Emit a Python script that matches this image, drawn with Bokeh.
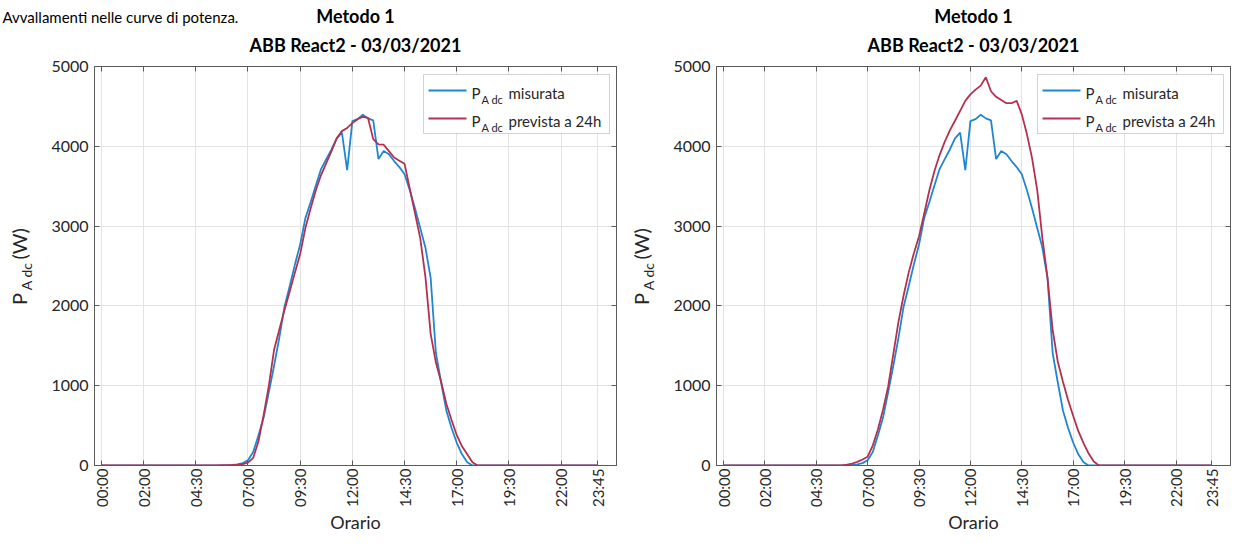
from math import pi
from bokeh.plotting import figure
from bokeh.models import Range1d, FixedTicker, Label, BoxAnnotation, LinearAxis, ColumnDataSource
from bokeh.layouts import row, column
from bokeh.core.properties import value
from bokeh.embed import file_html
from bokeh.resources import INLINE

# ---------------- data (15-minute samples, 00:00 .. 23:45) ----------------
tick_index = [0, 8, 18, 28, 38, 48, 58, 68, 78, 88, 95]
tick_labels = ["00:00", "02:00", "04:30", "07:00", "09:30", "12:00",
               "14:30", "17:00", "19:30", "22:00", "23:45"]
y_ticks = [0, 1000, 2000, 3000, 4000, 5000]

sample = list(range(96))

measured = [0, 0, 0, 0, 0, 0, 0, 0, 0, 0, 0, 0, 0, 0, 0, 0, 0, 0, 0, 0, 0, 0, 0, 0,
            3, 8, 15, 30, 65, 170, 375, 600, 920, 1250, 1600, 1990, 2250, 2520, 2770,
            3100, 3300, 3510, 3715, 3840, 3960, 4100, 4170, 3700, 4315, 4340, 4395,
            4350, 4325, 3840, 3940, 3900, 3815, 3740, 3650, 3450, 3220, 2975, 2730,
            2350, 1410, 1040, 690, 470, 285, 140, 40,
            0, 0, 0, 0, 0, 0, 0, 0, 0, 0, 0, 0, 0, 0, 0, 0, 0, 0, 0, 0, 0, 0, 0, 0, 0]

forecast_left = [0, 0, 0, 0, 0, 0, 0, 0, 0, 0, 0, 0, 0, 0, 0, 0, 0, 0, 0, 0, 0, 0, 0,
                 3, 5, 8, 12, 18, 35, 95, 300, 630, 1000, 1450, 1700, 1950, 2180, 2420,
                 2650, 2975, 3220, 3450, 3640, 3790, 3940, 4100, 4190, 4230, 4290, 4340,
                 4370, 4355, 4090, 4025, 4020, 3940, 3860, 3820, 3780, 3470, 3160, 2850,
                 2360, 1650, 1290, 1050, 775, 570, 380, 240, 140, 40,
                 0, 0, 0, 0, 0, 0, 0, 0, 0, 0, 0, 0, 0, 0, 0, 0, 0, 0, 0, 0, 0, 0, 0, 0]

forecast_right = [0, 0, 0, 0, 0, 0, 0, 0, 0, 0, 0, 0, 0, 0, 0, 0, 0, 0, 0, 0, 0, 0, 0, 0,
                  10, 25, 45, 75, 110, 250, 450, 700, 990, 1395, 1800, 2130, 2420, 2660,
                  2870, 3155, 3445, 3690, 3890, 4055, 4200, 4320, 4445, 4570, 4650, 4710,
                  4760, 4865, 4690, 4620, 4580, 4540, 4540, 4570, 4400, 4150, 3850, 3450,
                  2850, 2350, 1700, 1300, 1050, 820, 620, 430, 280, 150, 50,
                  0, 0, 0, 0, 0, 0, 0, 0, 0, 0, 0, 0, 0, 0, 0, 0, 0, 0, 0, 0, 0, 0, 0]

title_top = "Metodo 1"
title_sub = "ABB React2 - 03/03/2021"
x_label = "Orario"
y_main = ["P", "(W)"]
y_sub = "A dc"
legend_rest = ["misurata", "prevista a 24h"]
page_text = "Avvallamenti nelle curve di potenza."

# ---------------- style / layout ----------------
FONT = "Lato"
BLUE = "#1f86cf"
RED = "#b5304f"
AX = "#5a5a5a"
TXT = "#262626"
GRID = "#e3e3e3"
TOP_H = 56          # title strip
PLOT_H = 480        # each chart
MB_TOP = 10
MB_BOTTOM = 68
FRAME_H = PLOT_H - MB_TOP - MB_BOTTOM
STRIP_W = 40
P1_W, P1_L, P1_R = 580, 54, 4
P2_W, P2_L, P2_R = 572, 56, 2
Y_MAX = 5000


def blank(width, height, y_end, mb_top=0, mb_bottom=0):
    f = figure(width=width, height=height, x_range=Range1d(0, width), y_range=Range1d(0, y_end),
               min_border_left=0, min_border_right=0, min_border_top=mb_top,
               min_border_bottom=mb_bottom, output_backend="svg", toolbar_location=None,
               x_axis_location=None, y_axis_location=None, title=None)
    f.outline_line_color = None
    f.xgrid.visible = False
    f.ygrid.visible = False
    return f


def hidden_axis(ticks):
    a = LinearAxis(ticker=FixedTicker(ticks=ticks), major_label_text_font_size="0px",
                   major_tick_in=5, major_tick_out=0, minor_tick_line_color=None,
                   major_label_standoff=0, axis_line_color=AX, major_tick_line_color=AX)
    a.major_label_overrides = {t: "" for t in ticks}
    return a


def build(forecast, width, border_left, border_right):
    p = figure(width=width, height=PLOT_H, title=None,
               x_range=Range1d(-1.4, 98.6), y_range=Range1d(0, Y_MAX),
               output_backend="svg", toolbar_location=None,
               min_border_left=border_left, min_border_right=border_right,
               min_border_top=MB_TOP, min_border_bottom=MB_BOTTOM)
    p.outline_line_color = AX
    frame_w = width - border_left - border_right

    src = ColumnDataSource(dict(x=sample, m=measured, f=forecast))
    p.line("x", "m", source=src, line_color=BLUE, line_width=1.8)
    p.line("x", "f", source=src, line_color=RED, line_width=1.8)

    xa = p.xaxis[0]
    xa.ticker = FixedTicker(ticks=tick_index)
    xa.major_label_overrides = {t: l for t, l in zip(tick_index, tick_labels)}
    xa.major_label_orientation = pi / 2
    xa.axis_label = x_label
    ya = p.yaxis[0]
    ya.ticker = FixedTicker(ticks=y_ticks)
    for ax in (xa, ya):
        ax.axis_line_color = AX
        ax.major_tick_line_color = AX
        ax.major_tick_in = 5
        ax.major_tick_out = 0
        ax.minor_tick_line_color = None
        ax.major_label_text_font = FONT
        ax.major_label_text_color = TXT
        ax.axis_label_text_font = FONT
        ax.axis_label_text_font_size = "18px"
        ax.axis_label_text_font_style = "normal"
        ax.axis_label_text_color = TXT
    xa.major_label_text_font_size = "15px"
    ya.major_label_text_font_size = "16px"
    xa.major_label_standoff = 3
    xa.axis_label_standoff = 1
    ya.major_label_standoff = 6

    p.xgrid.ticker = FixedTicker(ticks=tick_index)
    p.ygrid.ticker = FixedTicker(ticks=y_ticks)
    p.xgrid.grid_line_color = GRID
    p.ygrid.grid_line_color = GRID

    p.add_layout(hidden_axis(y_ticks), "right")
    p.add_layout(hidden_axis(tick_index), "above")

    # legend, drawn by hand because of the subscript
    box_top = FRAME_H - 11
    box_bot = box_top - 59
    box_right = frame_w - 7
    box_left = box_right - 186
    su = dict(left_units="screen", right_units="screen", top_units="screen", bottom_units="screen")
    p.add_layout(BoxAnnotation(left=box_left, right=box_right, top=box_top, bottom=box_bot,
                               fill_color="white", fill_alpha=1.0, line_color="#6e6e6e",
                               line_width=1, level="annotation", **su))
    for i, (col, rest) in enumerate(zip([BLUE, RED], legend_rest)):
        ly = box_top - 16 - 28 * i
        p.add_layout(BoxAnnotation(left=box_left + 5, right=box_left + 43, top=ly + 1, bottom=ly - 1,
                                   fill_color=col, fill_alpha=1.0, line_alpha=0,
                                   level="annotation", **su))
        lt = dict(x_units="screen", y_units="screen", text_font=FONT, text_color=TXT,
                  text_align="left", text_baseline="alphabetic")
        p.add_layout(Label(x=box_left + 48, y=ly - 2, text=y_main[0], text_font_size="15px", **lt))
        p.add_layout(Label(x=box_left + 58, y=ly - 9, text=y_sub, text_font_size="11px", **lt))
        p.add_layout(Label(x=box_left + 85, y=ly - 2, text=rest, text_font_size="15px", **lt))
    return p


def frac(px):
    # value along the frame height for a pixel offset above the frame bottom
    return Y_MAX * px / 405.0


def ylabel_strip(xc):
    # the strip's frame lines up with the chart frame, so the label is placed along it
    s = blank(STRIP_W, PLOT_H, Y_MAX, MB_TOP, MB_BOTTOM)
    common = dict(angle=pi / 2, text_align="center", text_baseline="middle",
                  text_font=value(FONT), text_color=TXT)
    s.text(x=[xc, xc], y=[frac(169), frac(225)], text=y_main, text_font_size="20px", **common)
    s.text(x=[xc + 8], y=[frac(192)], text=[y_sub], text_font_size="14px", **common)
    return s


# title strip across the top
total_w = 2 * STRIP_W + P1_W + P2_W
top = blank(total_w, TOP_H, TOP_H)
c1 = STRIP_W + P1_L + (P1_W - P1_L - P1_R) / 2
c2 = 2 * STRIP_W + P1_W + P2_L + (P2_W - P2_L - P2_R) / 2
top.text(x=[c1, c1, c2, c2], y=[TOP_H - 15, TOP_H - 44, TOP_H - 15, TOP_H - 44],
         text=[title_top, title_sub, title_top, title_sub],
         text_align="center", text_baseline="middle", text_font=value(FONT),
         text_font_size="18px", text_font_style="bold", text_color="black")
top.text(x=[2], y=[TOP_H - 16], text=[page_text], text_align="left", text_baseline="alphabetic",
         text_font=value(FONT), text_font_size="15px", text_color="black")

p1 = build(forecast_left, P1_W, P1_L, P1_R)
p2 = build(forecast_right, P2_W, P2_L, P2_R)
layout = column(top, row(ylabel_strip(18), p1, ylabel_strip(20), p2, spacing=0), spacing=0)

open("out.html", "w").write(file_html(layout, INLINE))
